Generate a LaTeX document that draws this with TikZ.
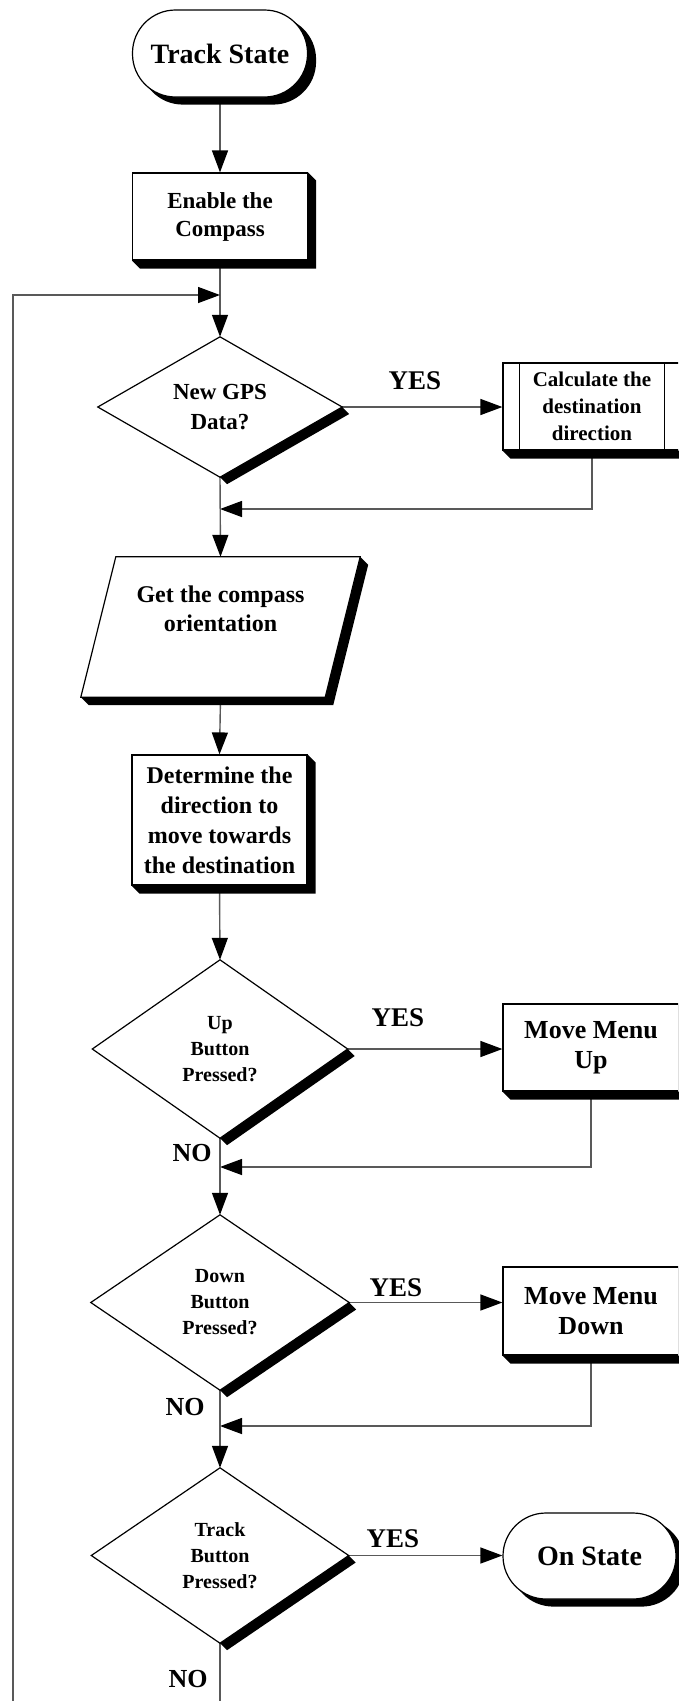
\documentclass[tikz,border=0pt]{standalone}
\usepackage{fontspec}
\setmainfont{Liberation Serif}
\usetikzlibrary{arrows.meta,calc}
\pgfdeclarelayer{conn}
\pgfdeclarelayer{shade}
\pgfsetlayers{conn,shade,main}
\tikzset{
  conn/.style={draw=black!65, line width=1.4pt},
  arr/.style={conn, -{Triangle[length=22pt,width=16pt,color=black]}},
  outl/.style={draw=black, line width=1.2pt},
  procbox/.style={outl, fill=white, inner sep=0pt, align=center},
  term/.style={procbox, rounded corners=43pt},
  hold/.style={inner sep=0pt, align=center},
  lab/.style={inner sep=0pt, font=\bfseries\fontsize{26pt}{30pt}\selectfont},
}
\newcommand\boxshade[1]{%
  \begin{pgfonlayer}{shade}
  \fill[black] (#1.north east) -- ($(#1.north east)+(8,8)$) -- ($(#1.south east)+(8,8)$)
     -- ($(#1.south west)+(8,8)$) -- (#1.south west) -- (#1.south east) -- cycle;
  \end{pgfonlayer}}
\newcommand\termshade[1]{%
  \begin{pgfonlayer}{shade}
  \fill[black, rounded corners=43pt] ($(#1.south west)+(8,7)$) rectangle ($(#1.north east)+(8,7)$);
  \end{pgfonlayer}}
\newcommand\diashape[1]{%
  \begin{pgfonlayer}{shade}
  \fill[black] (#1.east) -- ($(#1.east)+(7,7)$) -- ($(#1.south)+(7,7)$) -- (#1.south) -- cycle;
  \filldraw[fill=white, outl] (#1.north) -- (#1.east) -- (#1.south) -- (#1.west) -- cycle;
  \end{pgfonlayer}}
\begin{document}
\begin{tikzpicture}[x=1pt, y=-1pt]
\useasboundingbox (0,0) rectangle (678,1701);
\clip (0,0) rectangle (678,1701);

% nodes
\node[term, minimum width=175pt, minimum height=87pt, font=\bfseries\fontsize{28pt}{32pt}\selectfont] (ts) at (220,53.5) {Track State};
\termshade{ts}
\node[procbox, minimum width=175pt, minimum height=87pt, font=\bfseries\fontsize{23pt}{28pt}\selectfont] (en) at (220,216.5) {Enable the\\Compass};
\boxshade{en}
\node[hold, minimum width=244pt, minimum height=140pt, font=\bfseries\fontsize{23pt}{30pt}\selectfont] (d1) at (220,407) {New GPS\\Data?};
\diashape{d1}
\node[procbox, minimum width=178pt, minimum height=87pt, font=\bfseries\fontsize{21pt}{27pt}\selectfont] (calc) at (592,406.5) {Calculate the\\destination\\direction};
\boxshade{calc}
\draw[outl] ($(calc.north west)+(17,0)$) -- ($(calc.south west)+(17,0)$);
\draw[outl] ($(calc.north east)+(-17,0)$) -- ($(calc.south east)+(-17,0)$);

\node[hold, minimum width=209pt, minimum height=140pt] (get) at (220.5,627) {};
\begin{pgfonlayer}{shade}
\fill[black] ($(get.north east)+(35,0)$) -- ($(get.north east)+(43,8)$) -- ($(get.south east)+(8,8)$)
   -- ($(get.south west)+(-27,8)$) -- ($(get.south west)+(-35,0)$) -- (get.south east) -- cycle;
\filldraw[fill=white, outl] (get.north west) -- ($(get.north east)+(35,0)$) -- (get.south east) -- ($(get.south west)+(-35,0)$) -- cycle;
\end{pgfonlayer}
\node[hold, font=\bfseries\fontsize{24pt}{29pt}\selectfont] (gett) at ($(get.center)+(0,-18)$) {Get the compass\\orientation};

\node[procbox, minimum width=175pt, minimum height=130pt, font=\bfseries\fontsize{24pt}{30pt}\selectfont] (det) at (219.5,820) {Determine the\\direction to\\move towards\\the destination};
\boxshade{det}

\node[hold, minimum width=255pt, minimum height=178pt, font=\bfseries\fontsize{20pt}{26pt}\selectfont] (d2) at (220,1049) {Up\\Button\\Pressed?};
\diashape{d2}
\node[procbox, minimum width=176pt, minimum height=87pt, font=\bfseries\fontsize{26pt}{30pt}\selectfont] (mmu) at (591,1047.5) {Move Menu\\Up};
\boxshade{mmu}

\node[hold, minimum width=258pt, minimum height=175pt, font=\bfseries\fontsize{20pt}{26pt}\selectfont] (d3) at (220,1302.5) {Down\\Button\\Pressed?};
\diashape{d3}
\node[procbox, minimum width=176pt, minimum height=88pt, font=\bfseries\fontsize{26pt}{30pt}\selectfont] (mmd) at (591,1311) {Move Menu\\Down};
\boxshade{mmd}

\node[hold, minimum width=257pt, minimum height=175pt, font=\bfseries\fontsize{20pt}{26pt}\selectfont] (d4) at (220,1555.5) {Track\\Button\\Pressed?};
\diashape{d4}
\node[term, minimum width=173pt, minimum height=86pt, font=\bfseries\fontsize{28pt}{32pt}\selectfont] (on) at (589.5,1556) {On State};
\termshade{on}

% labels
\node[lab, font=\bfseries\fontsize{27pt}{30pt}\selectfont] (y1) at (415,381) {YES};
\node[lab, font=\bfseries\fontsize{27pt}{30pt}\selectfont] (y2) at (398,1018) {YES};
\node[lab, font=\bfseries\fontsize{27pt}{30pt}\selectfont] (y3) at (396,1288) {YES};
\node[lab, font=\bfseries\fontsize{27pt}{30pt}\selectfont] (y4) at (393,1539) {YES};
\node[lab] (n2) at (192,1153) {NO};
\node[lab] (n3) at (185,1407) {NO};
\node[lab] (n4) at (188,1679) {NO};

% coordinates
\coordinate (j1) at (220,295);
\coordinate (looptop) at (13,295);
\coordinate (loopbot) at (13,1701);
\coordinate (bottom) at (220,1701);
\coordinate (j2) at (220,509);
\coordinate (j3) at (220,1167);
\coordinate (j4) at (220,1426);

% connectors
\begin{pgfonlayer}{conn}
\draw[arr] (ts.south) -- (en.north);
\draw[arr] (en.south) -- (d1.north);
\draw[arr] (loopbot) -- (looptop) -- (j1);
\draw[arr] (d1.east) -- (d1.east -| calc.west);
\draw[arr] (calc.south) -- (calc.south |- j2) -- (j2);
\draw[arr] (d1.south) -- (get.north);
\draw[arr] (get.south) -- (det.north);
\draw[arr] (det.south) -- (d2.north);
\draw[arr] (d2.east) -- (d2.east -| mmu.west);
\draw[arr] (mmu.south) -- (mmu.south |- j3) -- (j3);
\draw[arr] (d2.south) -- (d3.north);
\draw[arr] (d3.east) -- (d3.east -| mmd.west);
\draw[arr] (mmd.south) -- (mmd.south |- j4) -- (j4);
\draw[arr] (d3.south) -- (d4.north);
\draw[arr] (d4.east) -- (d4.east -| on.west);
\draw[conn] (d4.south) -- (bottom);
\end{pgfonlayer}
\end{tikzpicture}
\end{document}
